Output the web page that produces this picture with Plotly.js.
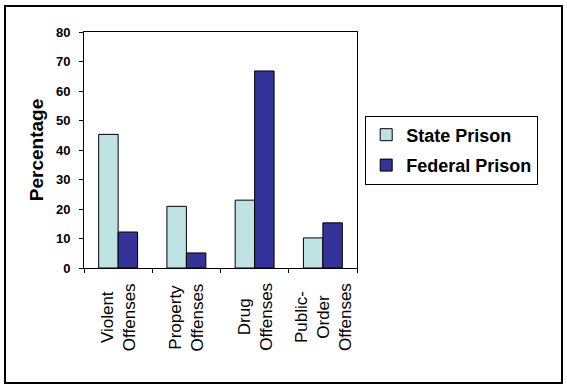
<!DOCTYPE html>
<html>
<head>
<meta charset="utf-8">
<script src="https://cdn.plot.ly/plotly-3.0.1.min.js"></script>
<style>
  html, body { margin: 0; padding: 0; background: #ffffff; }
  #wrap { position: relative; width: 567px; height: 388px; }
  #chart { position: absolute; left: 0; top: 0; width: 567px; height: 388px; }
  #frame { position: absolute; left: 4px; top: 5px; width: 555px; height: 375px; border: 2px solid #000; pointer-events: none; }
</style>
</head>
<body>
<div id="wrap">
  <div id="chart"></div>
  <div id="frame"></div>
</div>
<script>
// Data
const categories = ["Violent", "Property", "Drug", "Public-Order"];
const tickLabels = ["Violent<br>Offenses", "Property<br>Offenses", "Drug<br>Offenses", "Public-<br>Order<br>Offenses"];
const seriesNames = ["State Prison", "Federal Prison"];
const stateValues = [45.3, 20.9, 23.0, 10.2];
const federalValues = [12.2, 5.1, 66.8, 15.3];
const yTicks = [0, 10, 20, 30, 40, 50, 60, 70, 80];

const traces = [
  {
    type: "bar",
    name: seriesNames[0],
    legendgroup: "g1",
    x: categories,
    y: stateValues,
    marker: { color: "#BFE3E3", line: { color: "#000000", width: 1 } },
    hoverinfo: "x+y+name"
  },
  {
    type: "bar",
    name: seriesNames[1],
    legendgroup: "g2",
    x: categories,
    y: federalValues,
    marker: { color: "#333399", line: { color: "#000000", width: 1 } },
    hoverinfo: "x+y+name"
  }
];

const annotations = categories.map((c, i) => ({
  x: c,
  xref: "x",
  y: 0,
  yref: "paper",
  yanchor: "top",
  xanchor: "center",
  yshift: -13,
  text: tickLabels[i],
  textangle: -90,
  align: "center",
  showarrow: false,
  font: { family: "Arial, 'Liberation Sans', sans-serif", size: 17, color: "#000" }
}));

const layout = {
  width: 567,
  height: 388,
  margin: { l: 84, r: 209.5, t: 32, b: 120, pad: 0 },
  paper_bgcolor: "#ffffff",
  plot_bgcolor: "#ffffff",
  barmode: "group",
  bargap: 0.43,
  bargroupgap: 0,
  showlegend: true,
  legend: {
    x: 1.03,
    xanchor: "left",
    y: 0.5,
    yanchor: "middle",
    bgcolor: "#ffffff",
    bordercolor: "#000000",
    borderwidth: 1,
    traceorder: "grouped",
    tracegroupgap: 4,
    font: { family: "Arial, 'Liberation Sans', sans-serif", size: 18, color: "#000", weight: "bold" }
  },
  xaxis: {
    type: "category",
    showticklabels: false,
    ticks: "outside",
    tickson: "boundaries",
    ticklen: 4,
    tickcolor: "#000",
    tickwidth: 1,
    showline: true,
    linecolor: "#000",
    linewidth: 1,
    mirror: true,
    showgrid: false,
    zeroline: false,
    fixedrange: true
  },
  yaxis: {
    range: [0, 80],
    tickvals: yTicks,
    ticktext: yTicks.map(String),
    ticks: "outside",
    ticklen: 4,
    tickcolor: "#000",
    tickwidth: 1,
    ticklabelstandoff: 6,
    showline: true,
    linecolor: "#000",
    linewidth: 1,
    mirror: true,
    showgrid: false,
    zeroline: false,
    tickfont: { family: "Arial, 'Liberation Sans', sans-serif", size: 13, color: "#000", weight: "bold" },
    title: {
      text: "Percentage",
      font: { family: "Arial, 'Liberation Sans', sans-serif", size: 19, color: "#000", weight: "bold" },
      standoff: 7
    },
    fixedrange: true
  },
  annotations: annotations,
  font: { family: "Arial, 'Liberation Sans', sans-serif", color: "#000" }
};

Plotly.newPlot("chart", traces, layout, { displayModeBar: false, staticPlot: true });
</script>
</body>
</html>
